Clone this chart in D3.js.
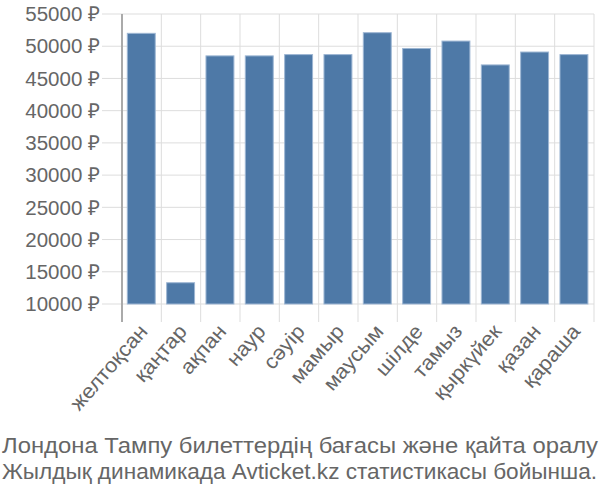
<!DOCTYPE html>
<html><head><meta charset="utf-8">
<script src="https://cdn.jsdelivr.net/npm/d3@7"></script>
<style>body{margin:0;background:#fff}svg{display:block}text{font-family:"Liberation Sans",Arial,sans-serif}</style>
</head><body><svg id="c" width="600" height="500"></svg>
<script>
const months = ["желтоқсан","қаңтар","ақпан","наур","сәуір","мамыр","маусым","шілде","тамыз","қыркүйек","қазан","қараша"];
const prices = [52000,13300,48500,48500,48700,48700,52100,49650,50800,47100,49100,48700];
const yTicks = [10000,15000,20000,25000,30000,35000,40000,45000,50000,55000];
const titleLines = ["Лондона Тампу билеттердің бағасы және қайта оралу","Жылдық динамикада Avticket.kz статистикасы бойынша."];

const svg = d3.select("#c");
const m = {l:122, r:594, t:14, b:304};
const x = d3.scaleBand().domain(months).range([m.l, m.r]).padding(0);
const y = d3.scaleLinear().domain([10000,55000]).range([m.b, m.t]);
const grid = "#dddddd", txt = "#666666";

// horizontal grid + y ticks
svg.append("g").selectAll("line").data(yTicks).join("line")
  .attr("x1", m.l-20).attr("x2", m.r).attr("y1", d=>y(d)).attr("y2", d=>y(d))
  .attr("stroke", grid).attr("stroke-width", 1);
// vertical grid at band boundaries
const bounds = months.map(d=>x(d)).concat([m.r]);
svg.append("g").selectAll("line").data(bounds).join("line")
  .attr("x1", d=>d).attr("x2", d=>d).attr("y1", m.t).attr("y2", m.b+18)
  .attr("stroke", (d,i)=> i===0 ? "#aaaaaa" : grid).attr("stroke-width", (d,i)=> i===0 ? 2 : 1);

// y labels
svg.append("g").selectAll("text").data(yTicks).join("text")
  .attr("x", 100).attr("y", d=>y(d)).attr("dy", "0.35em")
  .attr("text-anchor","end").attr("fill", txt).attr("font-size", 20.5)
  .text(d=>d + " ₽");

// bars
const bw = x.bandwidth();
svg.append("g").selectAll("rect").data(prices).join("rect")
  .attr("x", (d,i)=> x(months[i]) + bw*0.135)
  .attr("width", bw*0.71)
  .attr("y", d=>y(d)).attr("height", d=>y(10000)-y(d))
  .attr("fill", "#4e79a7").attr("stroke", "#9db6d3").attr("stroke-width", 1);

// x labels
svg.append("g").selectAll("text").data(months).join("text")
  .attr("transform", d=>`translate(${x(d)+bw/2+7},${m.b+28}) rotate(-49) scale(1.07,1)`)
  .attr("text-anchor","end").attr("fill", txt).attr("font-size", 20.5)
  .text(d=>d);

// title
svg.append("g").selectAll("text").data(titleLines).join("text")
  .attr("x", 2).attr("y", (d,i)=> 453 + i*25.5)
  .attr("fill", txt).attr("font-size", 22)
  .attr("textLength", (d,i)=> i===0 ? 596 : 595).attr("lengthAdjust","spacingAndGlyphs")
  .text(d=>d);
</script></body></html>
